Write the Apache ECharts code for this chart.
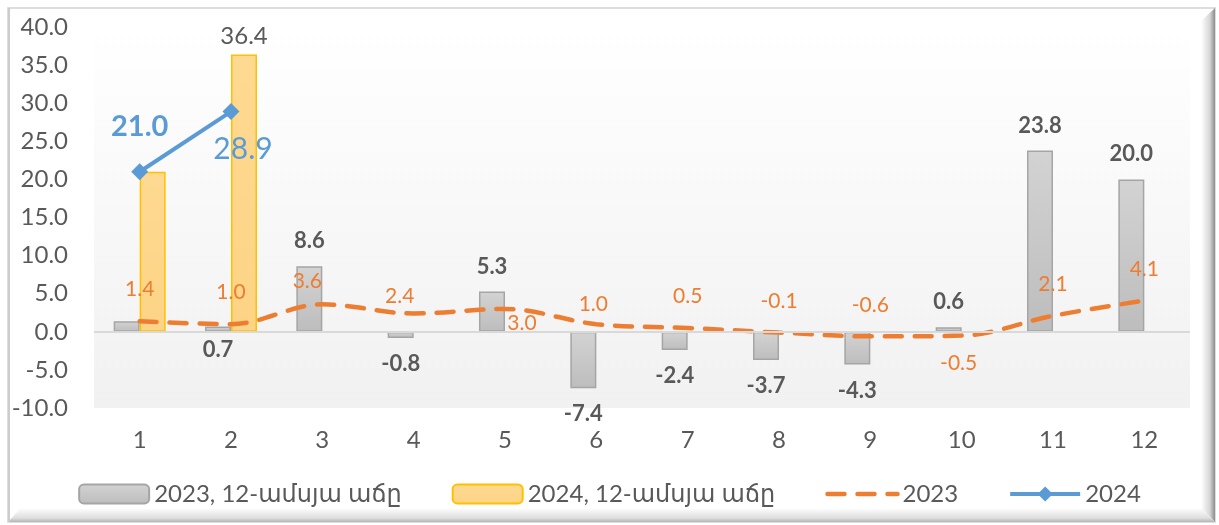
<!DOCTYPE html>
<html>
<head>
<meta charset="utf-8">
<script src="https://cdn.jsdelivr.net/npm/echarts@6/dist/echarts.min.js"></script>
<style>
  html, body { margin: 0; padding: 0; background: #ffffff; }
  #chart { width: 1219px; height: 525px; }
</style>
</head>
<body>
<div id="chart"></div>
<script>
const categories = ['1', '2', '3', '4', '5', '6', '7', '8', '9', '10', '11', '12'];
const bars2023 = [1.4, 0.7, 8.6, -0.8, 5.3, -7.4, -2.4, -3.7, -4.3, 0.6, 23.8, 20.0];
const bars2024 = [21.0, 36.4, null, null, null, null, null, null, null, null, null, null];
const line2023 = [1.4, 1.0, 3.6, 2.4, 3.0, 1.0, 0.5, -0.1, -0.6, -0.5, 2.1, 4.1];
const line2024 = [21.0, 28.9, null, null, null, null, null, null, null, null, null, null];
const seriesNames = ['2023, 12-ամսյա աճը', '2024, 12-ամսյա աճը', '2023', '2024'];

const FONT = 'Lato, "DejaVu Sans", sans-serif';
const TXT = '#595959';
const CLEAR = 'rgba(0,0,0,0)';

// label placement tweaks (styles only, not data)
const grayLabel = bars2023.map((v, i) => {
  if (i === 0) return { show: false };
  if (i === 1) return { position: 'bottom', distance: 7 };
  return v < 0 ? { position: 'bottom', distance: 15 } : { position: 'top', distance: 14 };
});
const orangeLabel = [
  {}, {}, { offset: [-15, 8] }, { offset: [-14, 14] },
  { position: 'bottom', distance: 3, offset: [17, 0] },
  { offset: [-3, 12] }, {}, {}, {},
  { position: 'bottom', distance: 16, offset: [-3, 0] }, {}, {}
];

const chart = echarts.init(document.getElementById('chart'), null, { renderer: 'canvas' });

const option = {
  animation: false,
  textStyle: { fontFamily: FONT },
  graphic: [
    { type: 'rect', z: -10, shape: { x: 8, y: 8, width: 1207, height: 514 },
      style: { fill: '#ffffff', stroke: '#d2d2d2', lineWidth: 1.5 } },
    { type: 'polygon', z: -9, shape: { points: [[1202, 20], [1215, 8], [1215, 522], [1202, 509]] },
      style: { fill: new echarts.graphic.LinearGradient(0, 0, 1, 0, [
        { offset: 0, color: '#fafafa' }, { offset: 0.6, color: '#d6d6d6' }, { offset: 0.85, color: '#a8a8a8' }, { offset: 1, color: '#8c8c8c' }]) } },
    { type: 'polygon', z: -9, shape: { points: [[20, 509], [1202, 509], [1215, 522], [8, 522]] },
      style: { fill: new echarts.graphic.LinearGradient(0, 0, 0, 1, [
        { offset: 0, color: '#fbfbfb' }, { offset: 0.7, color: '#dedede' }, { offset: 1, color: '#b5b5b5' }]) } },
    { type: 'rect', z: -8, shape: { x: 8, y: 8, width: 2, height: 514 },
      style: { fill: '#cccccc' } }
  ],
  grid: {
    left: 94, right: 29, top: 27, bottom: 117,
    show: true, borderWidth: 0,
    backgroundColor: new echarts.graphic.LinearGradient(0, 0, 0, 1, [
      { offset: 0, color: '#ffffff' }, { offset: 1, color: '#f1f1f1' }])
  },
  legend: {
    left: 'center', top: 477,
    itemWidth: 70, itemHeight: 19, itemGap: 50,
    textStyle: { color: TXT, fontSize: 24, fontFamily: FONT },
    data: [
      { name: seriesNames[0] },
      { name: seriesNames[1] },
      { name: seriesNames[2], itemStyle: { opacity: 0 }, lineStyle: { width: 4.5 } },
      { name: seriesNames[3], lineStyle: { width: 4 } }
    ]
  },
  xAxis: {
    type: 'category',
    data: categories,
    axisLine: { show: false },
    axisTick: { show: false },
    axisLabel: { color: TXT, fontSize: 24, margin: 20, fontFamily: FONT }
  },
  yAxis: {
    type: 'value',
    min: -10, max: 40, interval: 5,
    axisLine: { show: false },
    axisTick: { show: false },
    splitLine: { show: false },
    axisLabel: { color: TXT, fontSize: 24, margin: 26, fontFamily: FONT,
      formatter: v => v.toFixed(1) }
  },
  series: [
    {
      name: seriesNames[0],
      type: 'bar',
      barWidth: 26,
      barGap: '0%',
      itemStyle: {
        color: new echarts.graphic.LinearGradient(0, 0, 0, 1, [
          { offset: 0, color: '#d3d3d3' }, { offset: 1, color: '#bdbdbd' }]),
        borderColor: '#a5a5a5', borderWidth: 1.5
      },
      label: { show: true, color: TXT, fontSize: 22, fontWeight: 'bold', fontFamily: FONT,
        formatter: p => p.value.toFixed(1) },
      data: bars2023.map((v, i) => ({ value: v, label: grayLabel[i] })),
      markLine: {
        silent: true, symbol: 'none', label: { show: false },
        lineStyle: { color: '#d9d9d9', width: 2, type: 'solid' },
        data: [{ yAxis: 0 }]
      },
      z: 2
    },
    {
      name: seriesNames[1],
      type: 'bar',
      barWidth: 26,
      barGap: '0%',
      itemStyle: {
        color: new echarts.graphic.LinearGradient(0, 0, 0, 1, [
          { offset: 0, color: '#fed991' }, { offset: 1, color: '#fdd486' }]),
        borderColor: '#ffc000', borderWidth: 1.5
      },
      label: { show: true, position: 'top', distance: 6, color: TXT, fontSize: 24, fontFamily: FONT,
        formatter: p => p.value == null ? '' : p.value.toFixed(1) },
      data: bars2024.map((v, i) => ({ value: v, label: i === 0 ? { show: false } : {} })),
      z: 2
    },
    {
      name: seriesNames[2],
      type: 'line',
      smooth: 0.35,
      symbol: 'circle',
      symbolSize: 2,
      showSymbol: true,
      lineStyle: { color: '#ed7d31', width: 4.5, type: [17, 13], cap: 'round' },
      itemStyle: { color: CLEAR, borderWidth: 0 },
      label: { show: true, position: 'top', distance: 20, color: '#ed7d31', fontSize: 21, fontFamily: FONT,
        formatter: p => p.value.toFixed(1) },
      data: line2023.map((v, i) => ({ value: v, label: orangeLabel[i] })),
      z: 4
    },
    {
      name: seriesNames[3],
      type: 'line',
      symbol: 'diamond',
      symbolSize: [17, 17],
      lineStyle: { color: '#5b9bd5', width: 4 },
      itemStyle: { color: '#5b9bd5' },
      label: { show: true, color: '#5b9bd5', fontFamily: FONT,
        formatter: p => p.value == null ? '' : p.value.toFixed(1) },
      data: line2024.map((v, i) => ({
        value: v,
        label: i === 0
          ? { position: 'top', distance: 22, fontSize: 29, fontWeight: 'bold' }
          : { position: 'bottom', distance: 14, offset: [12, 0], fontSize: 30 }
      })),
      z: 5
    }
  ]
};

chart.setOption(option);
</script>
</body>
</html>
